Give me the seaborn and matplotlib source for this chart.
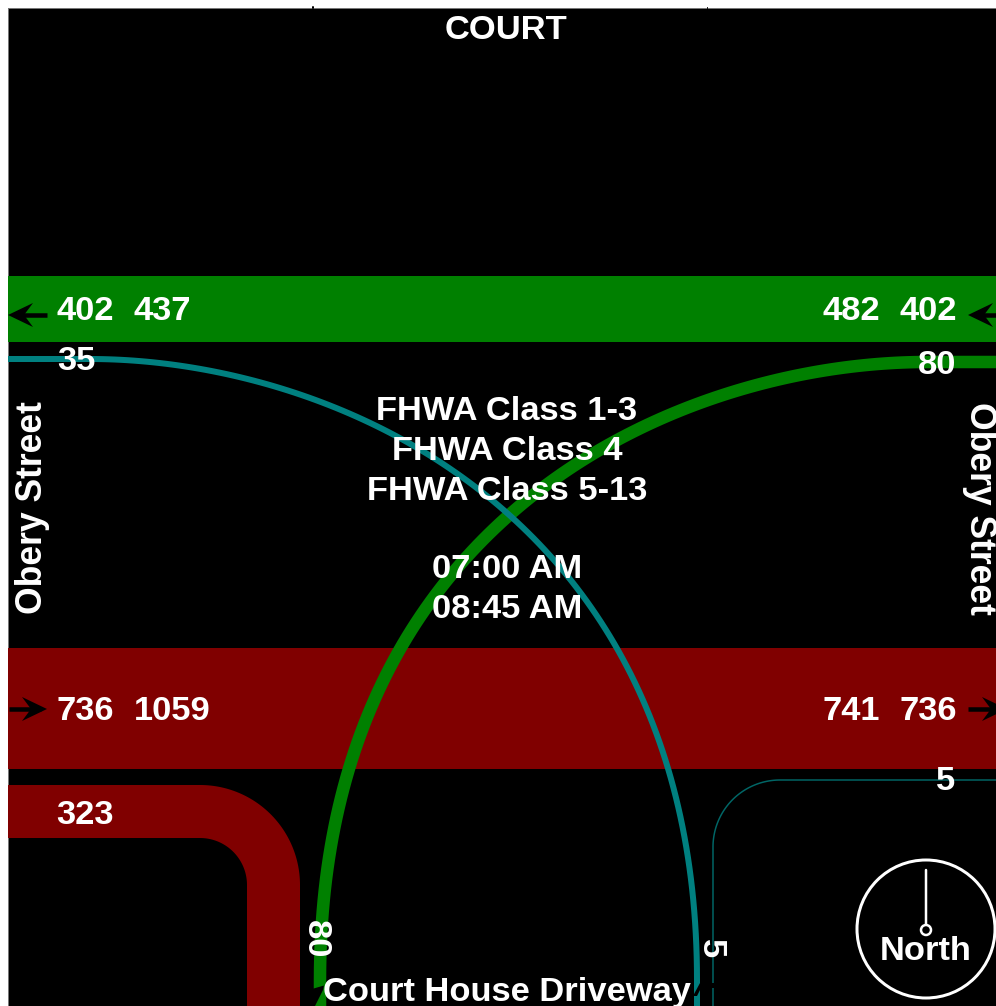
import matplotlib
matplotlib.use('Agg')
import matplotlib.pyplot as plt
import numpy as np
import pandas as pd
import seaborn as sns
from matplotlib.patches import Circle, Polygon, Rectangle

# turning movement volumes
west_top = ['402', '437']
east_top = ['482', '402']
west_bottom = ['736', '1059']
east_bottom = ['741', '736']
right_turn = '323'
left_turn_top = '35'
right_turn_top = '80'
driveway_left = '80'
driveway_right = '5'
thin_turn = '5'
legend_lines = ['FHWA Class 1-3', 'FHWA Class 4', 'FHWA Class 5-13']
time_lines = ['07:00 AM', '08:45 AM']
street = 'Obery Street'
top_name = 'COURT'
driveway_name = 'Court House Driveway'

GREEN = '#008000'
RED = '#800000'
TEAL = '#008080'
DARK_TEAL = '#006666'
PX = 72 / 100


def bezier(p0, p1, p2, p3, n=120):
    t = np.linspace(0, 1, n)[:, None]
    p0, p1, p2, p3 = map(np.array, (p0, p1, p2, p3))
    return (1 - t) ** 3 * p0 + 3 * (1 - t) ** 2 * t * p1 + 3 * (1 - t) * t ** 2 * p2 + t ** 3 * p3


def corner(start, center, r, a0, a1, end):
    a = np.radians(np.linspace(a0, a1, 60))
    arc = np.c_[center[0] + r * np.cos(a), center[1] + r * np.sin(a)]
    return np.vstack([start, arc, end])


def draw_path(ax, pts, width, color):
    df = pd.DataFrame(pts, columns=['x', 'y'])
    sns.lineplot(data=df, x='x', y='y', sort=False, estimator=None, color=color,
                 linewidth=width * PX, solid_capstyle='butt', ax=ax)


def label(ax, x, y, s, rotation=0, size=24.8):
    ax.text(x, y, s, color='white', fontsize=size, fontweight='bold', ha='center', va='center',
            rotation=rotation, rotation_mode='anchor', zorder=6)


def arrow(ax, x0, x1, y):
    d = 1 if x1 > x0 else -1
    ax.plot([x0, x1 - d * 6], [y, y], color='black', lw=4.5 * PX, solid_capstyle='butt', zorder=5)
    ax.add_patch(Polygon([[x1, y], [x1 - d * 25, y - 12], [x1 - d * 16, y], [x1 - d * 25, y + 12]],
                         color='black', lw=0, zorder=5))


sns.set_theme(style='white')
plt.rcParams['font.family'] = ['Liberation Sans', 'DejaVu Sans']

fig = plt.figure(figsize=(9.96, 10.06), dpi=100, facecolor='white')
ax = fig.add_axes([0, 0, 1, 1])
ax.set_xlim(0, 996)
ax.set_ylim(1006, 0)
ax.axis('off')
ax.add_patch(Rectangle((8, 8), 988, 998, color='black', lw=0, zorder=0))

# frame hairlines of the original screenshot
ax.plot([7.5, 7.5], [8, 1006], color='#777777', lw=1 * PX, zorder=1)
ax.plot([8, 996], [7.5, 7.5], color='#777777', lw=1 * PX, zorder=1)
ax.plot([312.5, 312.5], [6.5, 8], color='black', lw=2 * PX, zorder=1)
ax.plot([706.5, 706.5], [6.5, 8], color='black', lw=1 * PX, zorder=1)

ax.add_patch(Rectangle((8, 276), 988, 66, color=GREEN, lw=0, zorder=1))
ax.add_patch(Rectangle((8, 648), 988, 121, color=RED, lw=0, zorder=1))

draw_path(ax, corner([8, 811.5], (200, 885), 73.5, -90, 0, [273.5, 1006]), 53, RED)
green_curve = np.vstack([[996, 362], bezier((927, 362), (687, 362), (320, 510), (320, 980)), [320, 1006]])
draw_path(ax, green_curve, 12.5, GREEN)
teal_curve = np.vstack([[8, 359], bezier((90, 359), (330, 359), (697, 510), (697, 980)), [697, 1006]])
draw_path(ax, teal_curve, 6, TEAL)
draw_path(ax, corner([996, 780], (780, 847), 67, -90, -180, [713, 1006]), 1.5, DARK_TEAL)

# arrow heads on the driveway legs, mostly hidden by the street name
ax.add_patch(Polygon([[312, 989], [324, 985.5], [323, 990], [315, 1006], [312, 1006]], color='black', lw=0, zorder=4))
ax.add_patch(Polygon([[693, 996], [700, 983], [716, 983], [716, 988], [701, 988], [697, 996]],
                     color='black', lw=0, zorder=4))

arrow(ax, 47, 8, 315)
arrow(ax, 9, 47, 709)
arrow(ax, 1007, 968, 315)
arrow(ax, 968, 1007, 709)

label(ax, 85, 311, west_top[0])
label(ax, 162, 311, west_top[1])
label(ax, 851, 311, east_top[0])
label(ax, 928, 311, east_top[1])
label(ax, 85, 712, west_bottom[0])
label(ax, 172, 712, west_bottom[1])
label(ax, 851, 712, east_bottom[0])
label(ax, 928, 712, east_bottom[1])
label(ax, 85, 815, right_turn)
label(ax, 76, 362, left_turn_top)
label(ax, 937, 365, right_turn_top)
label(ax, 946, 782, thin_turn)
label(ax, 315, 939, driveway_left, rotation=-90)
label(ax, 710, 949, driveway_right, rotation=-90)

for y, s in zip([412, 451, 491], legend_lines):
    label(ax, 507, y, s)
for y, s in zip([570, 610], time_lines):
    label(ax, 507, y, s)
label(ax, 506, 30, top_name)
label(ax, 507, 992, driveway_name)
label(ax, 33, 508, street, rotation=90, size=25.6)
label(ax, 979, 508, street, rotation=-90, size=25.6)

ax.add_patch(Circle((926, 929), 69, fill=False, ec='white', lw=3 * PX, zorder=6))
ax.plot([926, 926], [870, 924], color='white', lw=2.5 * PX, zorder=6)
ax.add_patch(Circle((926, 930), 5, fill=False, ec='white', lw=2.5 * PX, zorder=6))
label(ax, 926, 952, 'North')

fig.savefig('out.png', dpi=100, facecolor='white')
